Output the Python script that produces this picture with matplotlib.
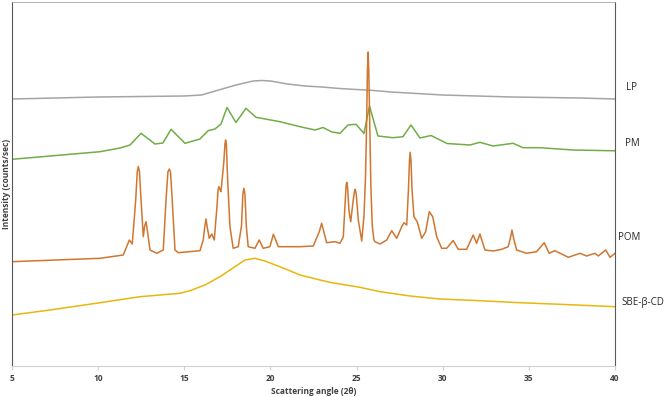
import matplotlib
matplotlib.use("Agg")
import matplotlib.pyplot as plt

plt.rcParams['font.family'] = ['Open Sans', 'DejaVu Sans']

# XRD patterns, intensities (arbitrary units, stacked)
lp_x = [5, 7.5, 10, 12.5, 15, 16, 17, 18, 19, 19.5, 20, 21, 22, 23, 24, 25, 26, 27, 28,
        30, 32, 34, 36, 38, 40]
lp_y = [267, 268, 269, 269.5, 270, 271, 276, 281, 285, 285.5, 285, 282, 280, 279, 277.5,
        276.5, 275.5, 274, 273, 271, 270, 269, 268.5, 268, 267]

pm_x = [5.0, 10.11, 11.27, 11.85, 12.49, 13.30, 13.76, 14.23, 15.04, 15.91, 16.38, 16.78,
        17.13, 17.48, 18.0, 18.58, 19.16, 20.55, 21.72, 22.59, 23.05, 23.57, 24.04, 24.5,
        24.97, 25.43, 25.75, 26.24, 27.11, 27.69, 28.16, 28.68, 29.32, 30.25, 31.58, 32.16,
        32.92, 34.08, 34.66, 35.64, 37.56, 40]
pm_y = [206.7, 214.3, 218, 221, 232.7, 222, 223, 236.7, 222.7, 227, 235.3, 237,
        242, 258.5, 243.5, 257.7, 248.7, 244.3, 239.3, 236, 238.5, 234, 232.7, 241,
        241.7, 232.5, 260, 230, 228.3, 229.3, 241, 228, 230.5, 222.5, 221, 223.7,
        220, 222.7, 218.3, 218.3, 216, 215.2]

pom_x = [5, 10.11, 11.46, 11.81, 11.98, 12.18, 12.27, 12.33, 12.40, 12.49, 12.62, 12.70,
         12.78, 12.86, 13.01, 13.40, 13.78, 13.94, 14.05, 14.13, 14.20, 14.30, 14.46,
         14.65, 15.91, 16.10, 16.18, 16.26, 16.34, 16.45, 16.59, 16.74, 16.90, 16.96,
         17.01, 17.13, 17.30, 17.36, 17.40, 17.44, 17.52, 17.65, 17.84, 18.13, 18.32,
         18.40, 18.46, 18.52, 18.60, 18.71, 19.10, 19.35, 19.58, 19.97, 20.17, 20.46,
         21.72, 22.49, 22.85, 22.97, 23.09, 23.26, 23.75, 24.04, 24.23, 24.33, 24.39,
         24.43, 24.48, 24.56, 24.66, 24.80, 24.88, 24.92, 24.98, 25.10, 25.30, 25.43,
         25.52, 25.58, 25.63, 25.67, 25.71, 25.77, 25.83, 25.91, 26.01, 26.07, 26.36,
         26.75, 27.04, 27.33, 27.62, 27.75, 27.91, 28.01, 28.07, 28.11, 28.16, 28.22,
         28.33, 28.52, 28.78, 29.01, 29.22, 29.42, 29.65, 29.94, 30.23, 30.61, 30.90,
         31.39, 31.77, 31.97, 32.16, 32.45, 32.93, 33.42, 33.80, 33.93, 34.02, 34.11,
         34.29, 34.87, 35.45, 35.89, 36.18, 36.51, 37.29, 37.97, 38.35, 38.84, 39.03,
         39.46, 39.71, 40]
pom_y = [104.3, 107.7, 111, 126, 122, 166, 194, 199.5, 194, 166, 129.3, 140,
         144.3, 135, 116, 112.7, 116, 166, 194, 197, 194, 166, 116,
         113.3, 115.3, 126, 138, 147, 138, 127.7, 132, 126, 160, 176,
         179.3, 174.3, 205, 222, 226, 222, 185, 139.3, 117.7, 119.3, 140,
         172, 177.7, 172, 140, 119.3, 117.7, 126, 117.7, 119.3, 131.7, 119.3,
         119.3, 120, 135, 142.7, 135, 123.3, 124.3, 122.7, 129.3, 160, 180,
         183.7, 178, 155, 144.3, 165, 175, 176.7, 172, 146, 125, 150,
         190, 240, 295, 314, 295, 240, 180, 140, 126, 124.3, 122,
         126, 135.3, 127.7, 139.3, 143.3, 141, 176, 205, 213.7, 205, 176,
         149.3, 144.3, 127.7, 134.3, 154.3, 149.3, 129.3, 117.7, 117.7, 125.5, 116.7,
         116.7, 131, 122.7, 132, 116, 115, 116.7, 119.3, 128, 136, 128,
         116, 112.7, 114.3, 123.3, 112.7, 115.3, 108.7, 112.7, 110, 112.7, 110,
         116, 108.7, 112.7]

sbe_x = [5, 7.21, 10.11, 12.43, 13.59, 14.75, 15.33, 16.20, 17.07, 17.94, 18.52, 19.10,
         19.68, 20.55, 21.72, 22.88, 23.57, 25.20, 26.36, 28.10, 29.84, 32.16, 34.48,
         36.81, 40]
sbe_y = [51, 56, 63.3, 69.3, 71, 72.7, 75.3, 81, 89.3, 99.3, 106, 107.7,
         105, 99.3, 91, 86, 83.3, 78.7, 74.3, 70, 67, 65.3, 63.3, 61.7, 59.3]

names = ['LP', 'PM', 'POM', 'SBE-\u03b2-CD']
colors = ['#a5a5a5', '#70ad47', '#d0762f', '#e8b70c']
label_pos = [(40.98, 278), (40.98, 222.3), (40.81, 128.3), (41.62, 63.3)]

fig = plt.figure(figsize=(6.64, 3.97), dpi=100)
ax = fig.add_axes([12 / 664, 1 - 366 / 397, 603 / 664, 364 / 397])

series = [(lp_x, lp_y), (pm_x, pm_y), (pom_x, pom_y), (sbe_x, sbe_y)]
for (xs, ys), c in zip(series, colors):
    ax.plot(xs, ys, color=c, lw=1.1)

for name, (tx, ty) in zip(names, label_pos):
    ax.text(tx, ty, name, ha='center', va='center', fontsize=7, color='#262626',
            clip_on=False)

ax.set_xlim(5, 40)
ax.set_ylim(0, 364)
ax.set_xticks(range(5, 41, 5))
ax.set_yticks([])
ax.tick_params(axis='x', length=3, width=0.8, color='#d0d0d0', labelsize=6, pad=3)
for lab in ax.get_xticklabels():
    lab.set_fontweight('bold')
    lab.set_color('#404040')

ax.spines['left'].set_color('#595959')
ax.spines['right'].set_color('#595959')
ax.spines['top'].set_color('#a6a6a6')
ax.spines['top'].set_linewidth(0.6)
ax.spines['bottom'].set_color('#d0d0d0')

ax.set_xlabel('Scattering angle (2\u03b8)', fontsize=6, fontweight='bold', color='#404040',
              labelpad=3)
ax.set_ylabel('Intensity (counts/sec)', fontsize=6, fontweight='bold', color='#404040',
              labelpad=1)

fig.savefig('out.png', dpi=100)
